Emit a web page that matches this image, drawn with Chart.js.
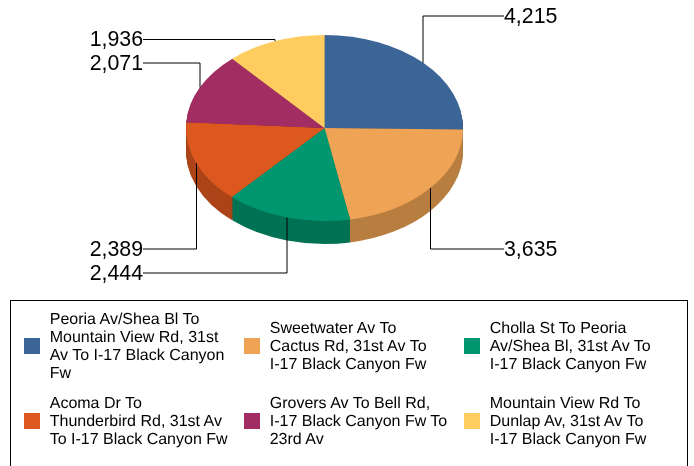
<!DOCTYPE html>
<html>
<head>
<meta charset="utf-8">
<title>Pie</title>
<script src="https://cdn.jsdelivr.net/npm/chart.js@4"></script>
<style>
html, body { margin: 0; padding: 0; background: #fff; overflow: hidden; }
#wrap { position: relative; width: 694px; height: 466px; overflow: hidden; font-family: "Liberation Sans", sans-serif; }
#pie { position: absolute; left: 0; top: 0; }
#legend {
    position: absolute; left: 10px; top: 300px; width: 678px; height: 200px;
    border: 1px solid #000; padding: 7.5px 0 0 13px; box-sizing: border-box;
    display: grid; grid-template-columns: 220px 220px 200px; grid-auto-rows: 75px;
}
.item { display: flex; align-items: center; font-size: 16px; line-height: 18px; color: #000; white-space: nowrap; text-rendering: geometricPrecision; }
.item .text { position: relative; top: 1px; left: -0.3px; }
.swatch { width: 16px; height: 16px; margin-right: 10px; flex: none; }
</style>
</head>
<body>
<div id="wrap">
    <canvas id="pie" width="694" height="466"></canvas>
    <div id="legend"></div>
</div>
<script>
// Подписи разбиты по строкам как в легенде оригинала
const categories = [
    ['Peoria Av/Shea Bl To', 'Mountain View Rd, 31st', 'Av To I-17 Black Canyon', 'Fw'],
    ['Sweetwater Av To', 'Cactus Rd, 31st Av To', 'I-17 Black Canyon Fw'],
    ['Cholla St To Peoria', 'Av/Shea Bl, 31st Av To', 'I-17 Black Canyon Fw'],
    ['Acoma Dr To', 'Thunderbird Rd, 31st Av', 'To I-17 Black Canyon Fw'],
    ['Grovers Av To Bell Rd,', 'I-17 Black Canyon Fw To', '23rd Av'],
    ['Mountain View Rd To', 'Dunlap Av, 31st Av To', 'I-17 Black Canyon Fw']
];
const values = [4215, 3635, 2444, 2389, 2071, 1936];
const colors = ['#3B6596', '#EFA354', '#009670', '#DD581F', '#A22D62', '#FFCC5F'];
const sideColors = ['#2C4C71', '#B87E40', '#007354', '#AB4418', '#7C224B', '#C49D49'];

// Высота подписи и сторона выноски
const labelY = [16, 249, 273, 249, 63, 39.5];
const labelRight = [true, true, false, false, false, false];

const CENTER_Y = 128;
const RADIUS_Y = 93;
const DEPTH = 23;

function pieTransform(ctx, el, shift) {
    const k = RADIUS_Y / el.outerRadius;
    ctx.translate(0, CENTER_Y + shift);
    ctx.scale(1, k);
    ctx.translate(0, -el.y);
}

const pie3d = {
    id: 'pie3d',
    // боковая стенка: слои снизу вверх
    beforeDatasetsDraw(chart) {
        const ctx = chart.ctx;
        const arcs = chart.getDatasetMeta(0).data;
        for (let d = DEPTH; d >= 1; d--) {
            arcs.forEach((el, i) => {
                ctx.save();
                pieTransform(ctx, el, d);
                ctx.beginPath();
                ctx.moveTo(el.x, el.y);
                ctx.arc(el.x, el.y, el.outerRadius, el.startAngle, el.endAngle);
                ctx.closePath();
                ctx.fillStyle = sideColors[i];
                ctx.fill();
                ctx.restore();
            });
        }
    },
    beforeDatasetDraw(chart) {
        chart.ctx.save();
        pieTransform(chart.ctx, chart.getDatasetMeta(0).data[0], 0);
    },
    afterDatasetDraw(chart) {
        chart.ctx.restore();
    },
    // выноски и значения
    afterDraw(chart) {
        const ctx = chart.ctx;
        const k = RADIUS_Y / chart.getDatasetMeta(0).data[0].outerRadius;
        chart.getDatasetMeta(0).data.forEach((el, i) => {
            const mid = (el.startAngle + el.endAngle) / 2;
            const x = el.x + el.outerRadius * Math.cos(mid);
            const y = CENTER_Y + el.outerRadius * k * Math.sin(mid);
            const endX = labelRight[i] ? 504 : 143;
            ctx.save();
            ctx.strokeStyle = '#000';
            ctx.lineWidth = 1;
            ctx.beginPath();
            ctx.moveTo(Math.round(x * 2) / 2, y);
            ctx.lineTo(Math.round(x * 2) / 2, labelY[i]);
            ctx.lineTo(endX, labelY[i]);
            ctx.stroke();
            ctx.fillStyle = '#000';
            ctx.font = '21.33px "Liberation Sans"';
            ctx.textBaseline = 'middle';
            ctx.textAlign = labelRight[i] ? 'left' : 'right';
            ctx.fillText(values[i].toLocaleString('en-US'), endX, labelY[i] + 1);
            ctx.restore();
        });
    }
};

new Chart(document.getElementById('pie'), {
    type: 'pie',
    data: {
        labels: categories,
        datasets: [{
            data: values,
            backgroundColor: colors,
            borderWidth: 0,
            clip: false
        }]
    },
    options: {
        responsive: false,
        animation: false,
        layout: { padding: { left: 186, right: 231, top: 0, bottom: 189 } },
        plugins: {
            legend: { display: false },
            tooltip: { enabled: false }
        }
    },
    plugins: [pie3d]
});

const legendBox = document.getElementById('legend');
categories.forEach((lines, i) => {
    const item = document.createElement('div');
    item.className = 'item';
    const swatch = document.createElement('div');
    swatch.className = 'swatch';
    swatch.style.background = colors[i];
    const text = document.createElement('div');
    text.className = 'text';
    text.innerHTML = lines.join('<br>');
    item.appendChild(swatch);
    item.appendChild(text);
    legendBox.appendChild(item);
});
</script>
</body>
</html>
